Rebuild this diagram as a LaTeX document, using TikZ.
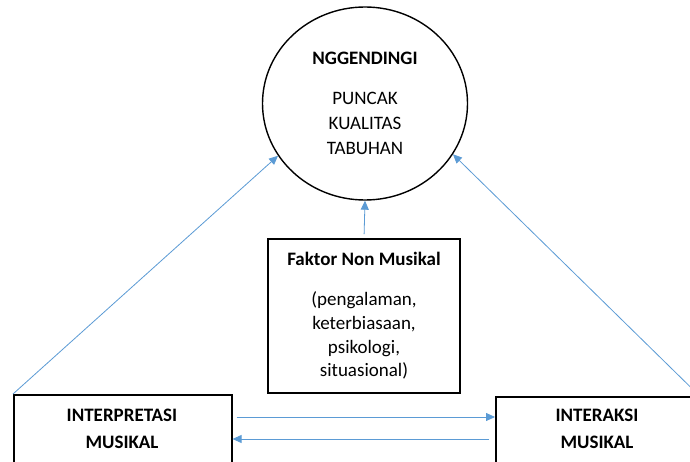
\documentclass[tikz,border=0pt]{standalone}
\usepackage{fontspec}
\setmainfont{Carlito}
\usetikzlibrary{shapes.geometric,arrows.meta}
\definecolor{arrblue}{HTML}{5B9BD5}
\begin{document}
\begin{tikzpicture}[x=1pt,y=-1pt,
  every node/.style={font=\fontsize{19}{25}\selectfont},
  bigcirc/.style={ellipse,draw=black,line width=1.4pt,minimum width=205pt,minimum height=193pt,align=center,inner sep=0pt},
  framebox/.style={rectangle,draw=black,line width=1.6pt,inner sep=0pt},
  boxtext/.style={align=center,inner sep=0pt,font=\bfseries\fontsize{19}{27}\selectfont},
  arr/.style={draw=arrblue,line width=0.8pt,-{Triangle[length=9pt,width=8pt]}}]
\clip (0,0) rectangle (690,462);
\fill[white] (0,0) rectangle (690,462);

\node[bigcirc] (circ) at (365,103.5) {\textbf{NGGENDINGI}\\[15pt]PUNCAK\\KUALITAS\\TABUHAN};

\node[framebox, minimum width=192pt, minimum height=154pt, align=center,
      font=\fontsize{19}{23.7}\selectfont] (fak) at (364,316)
  {\textbf{Faktor Non Musikal}\\[16.3pt](pengalaman,\\keterbiasaan,\\psikologi,\\situasional)};

\node[framebox, minimum width=218pt, minimum height=100pt, anchor=north west] (ib) at (13,394) {};
\node[boxtext] (ibt) at (122,428.5) {INTERPRETASI\\MUSIKAL};
\node[framebox, minimum width=203pt, minimum height=100pt, anchor=north west] (ab) at (495,396) {};
\node[boxtext] (abt) at (597,428.5) {INTERAKSI\\MUSIKAL};

\coordinate (hTop) at (0,417);
\coordinate (hBot) at (0,439);
\draw[arr] (ib.north west) -- (circ.211);
\draw[arr] (ab.north east) -- (circ.330);
\draw[arr, shorten <=4pt] (fak.north) -- (circ.south);
\draw[arr] ([xshift=4pt]ib.east |- hTop) -- (ab.west |- hTop);
\draw[arr] ([xshift=-6pt]ab.west |- hBot) -- (ib.east |- hBot);
\end{tikzpicture}
\end{document}
